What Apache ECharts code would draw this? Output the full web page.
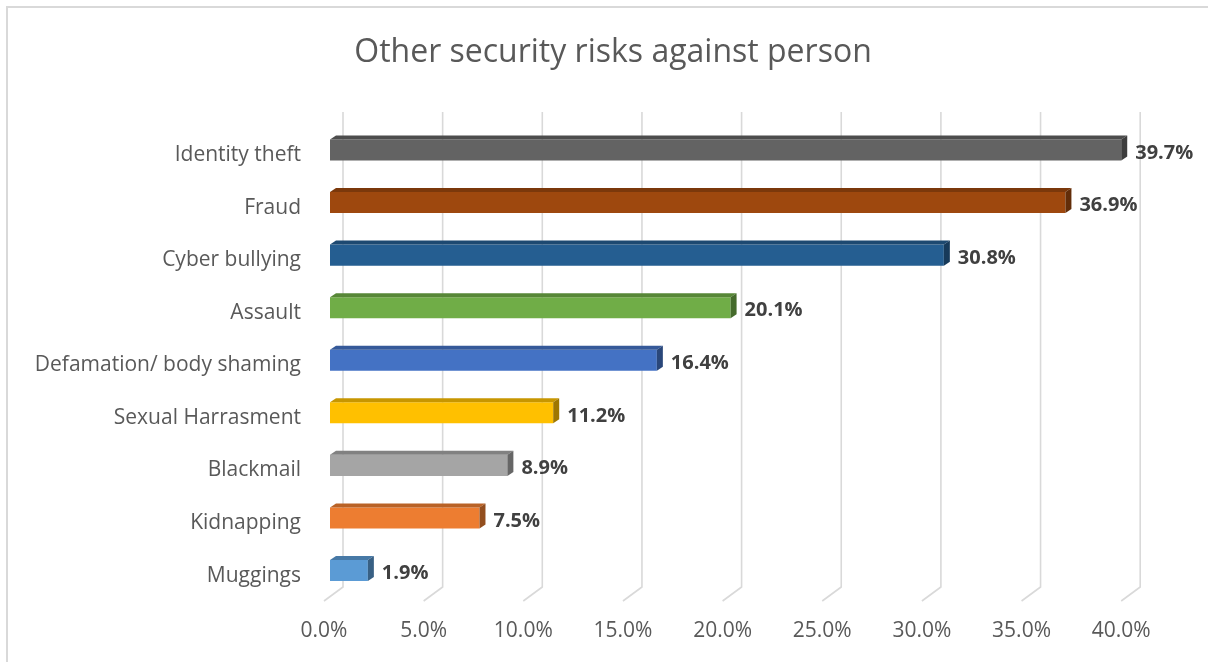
<!DOCTYPE html>
<html>
<head>
<meta charset="utf-8">
<script src="https://cdn.jsdelivr.net/npm/echarts@6/dist/echarts.min.js"></script>
<style>
  html, body { margin: 0; padding: 0; background: #ffffff; }
  #chart { width: 1208px; height: 662px; }
</style>
</head>
<body>
<div id="chart"></div>
<script>
// Survey results: share of respondents naming each risk
const categories = ['Identity theft', 'Fraud', 'Cyber bullying', 'Assault', 'Defamation/ body shaming',
                    'Sexual Harrasment', 'Blackmail', 'Kidnapping', 'Muggings'];
const values = [39.7, 36.9, 30.8, 20.1, 16.4, 11.2, 8.9, 7.5, 1.9];
const barColors = ['#636363', '#9e480e', '#255e91', '#70ad47', '#4472c4',
                   '#ffc000', '#a5a5a5', '#ed7d31', '#5b9bd5'];
const tickValues = [0, 5, 10, 15, 20, 25, 30, 35, 40];

const FONT = '"Open Sans", "Noto Sans", sans-serif';
const PX_PER_UNIT = 19.93;            // horizontal scale shared by all planes
const PLOT_W = 40 * PX_PER_UNIT;
const DEPTH = [6, -4];                // bar extrusion offset
const FLOOR = [-19, 14];              // floor offset for the gridline feet

function shade(hex, f) {
  const n = parseInt(hex.slice(1), 16);
  const r = Math.round(((n >> 16) & 255) * f);
  const g = Math.round(((n >> 8) & 255) * f);
  const b = Math.round((n & 255) * f);
  return 'rgb(' + r + ',' + g + ',' + b + ')';
}

const chart = echarts.init(document.getElementById('chart'), null, { renderer: 'canvas' });

const barLeft = 330, barTop = 123.7, barBottom = 596.8;
const labelShift = 5;                 // category names sit slightly below the bar centres
const gridLeft = 343, gridTop = 112, gridBottom = 587;
const tickLeft = 324, tickAxisY = 601;

chart.setOption({
  animation: false,
  backgroundColor: '#ffffff',
  title: {
    text: 'Other security risks against person',
    left: 608, top: 32,
    textAlign: 'center',
    textStyle: { fontFamily: FONT, fontSize: 32, fontWeight: 'normal', color: '#595959' }
  },
  graphic: [{
    type: 'rect',
    shape: { x: 7, y: 7, width: 1400, height: 900 },
    style: { fill: 'none', stroke: '#d9d9d9', lineWidth: 2 },
    silent: true
  }],
  grid: [
    { left: barLeft, width: PLOT_W, top: barTop, height: barBottom - barTop },
    { left: gridLeft, width: PLOT_W, top: gridTop, height: gridBottom - gridTop },
    { left: tickLeft, width: PLOT_W, top: 500, height: tickAxisY - 500 },
    { left: barLeft, width: PLOT_W, top: barTop + labelShift, height: barBottom - barTop }
  ],
  xAxis: [
    { gridIndex: 0, type: 'value', min: 0, max: 40, interval: 5, show: false },
    { gridIndex: 1, type: 'value', min: 0, max: 40, interval: 5, show: false },
    {
      gridIndex: 2, type: 'value', min: 0, max: 40, interval: 5,
      axisLine: { show: false }, axisTick: { show: false }, splitLine: { show: false },
      axisLabel: {
        margin: 20, color: '#595959', fontFamily: FONT, fontSize: 21,
        formatter: v => v.toFixed(1) + '%'
      }
    },
    { gridIndex: 3, type: 'value', min: 0, max: 40, interval: 5, show: false }
  ],
  yAxis: [
    { gridIndex: 0, type: 'category', data: categories, inverse: true, show: false },
    { gridIndex: 1, type: 'value', min: 0, max: 1, show: false },
    { gridIndex: 2, type: 'value', min: 0, max: 1, show: false },
    {
      gridIndex: 3, type: 'category', data: categories, inverse: true,
      axisLine: { show: false }, axisTick: { show: false }, splitLine: { show: false },
      axisLabel: { margin: 29, color: '#595959', fontFamily: FONT, fontSize: 21 }
    }
  ],
  series: [
    {
      // gridlines: vertical on the back wall, then a short foot across the floor
      type: 'custom',
      xAxisIndex: 1, yAxisIndex: 1,
      silent: true, z: 1,
      data: tickValues.map(v => [v]),
      renderItem: function (params, api) {
        const v = api.value(0);
        const top = api.coord([v, 1]);
        const bot = api.coord([v, 0]);
        return {
          type: 'polyline',
          shape: { points: [top, bot, [bot[0] + FLOOR[0], bot[1] + FLOOR[1]]] },
          style: { stroke: '#d9d9d9', lineWidth: 1.6, fill: null }
        };
      }
    },
    {
      // extruded bars with their value labels
      type: 'custom',
      xAxisIndex: 0, yAxisIndex: 0,
      z: 2,
      encode: { x: 0, y: 1 },
      data: values.map((v, i) => [v, i]),
      renderItem: function (params, api) {
        const v = api.value(0);
        const i = api.value(1);
        const end = api.coord([v, i]);
        const start = api.coord([0, i]);
        const h = api.size([0, 1])[1] * 0.4;
        const y0 = end[1] - h / 2, y1 = end[1] + h / 2;
        const c = barColors[params.dataIndex];
        const [dx, dy] = DEPTH;
        return {
          type: 'group',
          children: [
            {
              type: 'rect',
              shape: { x: start[0], y: y0, width: end[0] - start[0], height: h },
              style: { fill: c }
            },
            {
              type: 'polygon',
              shape: { points: [[start[0], y0], [start[0] + dx, y0 + dy], [end[0] + dx, y0 + dy], [end[0], y0]] },
              style: { fill: shade(c, 0.78) }
            },
            {
              type: 'polygon',
              shape: { points: [[end[0], y0], [end[0] + dx, y0 + dy], [end[0] + dx, y1 + dy], [end[0], y1]] },
              style: { fill: shade(c, 0.62) }
            },
            {
              type: 'text',
              x: end[0] + dx + 8,
              y: end[1] + 3,
              style: {
                text: v.toFixed(1) + '%',
                fill: '#404040',
                font: 'bold 20px ' + FONT,
                align: 'left',
                verticalAlign: 'middle'
              }
            }
          ]
        };
      }
    }
  ]
});
</script>
</body>
</html>
